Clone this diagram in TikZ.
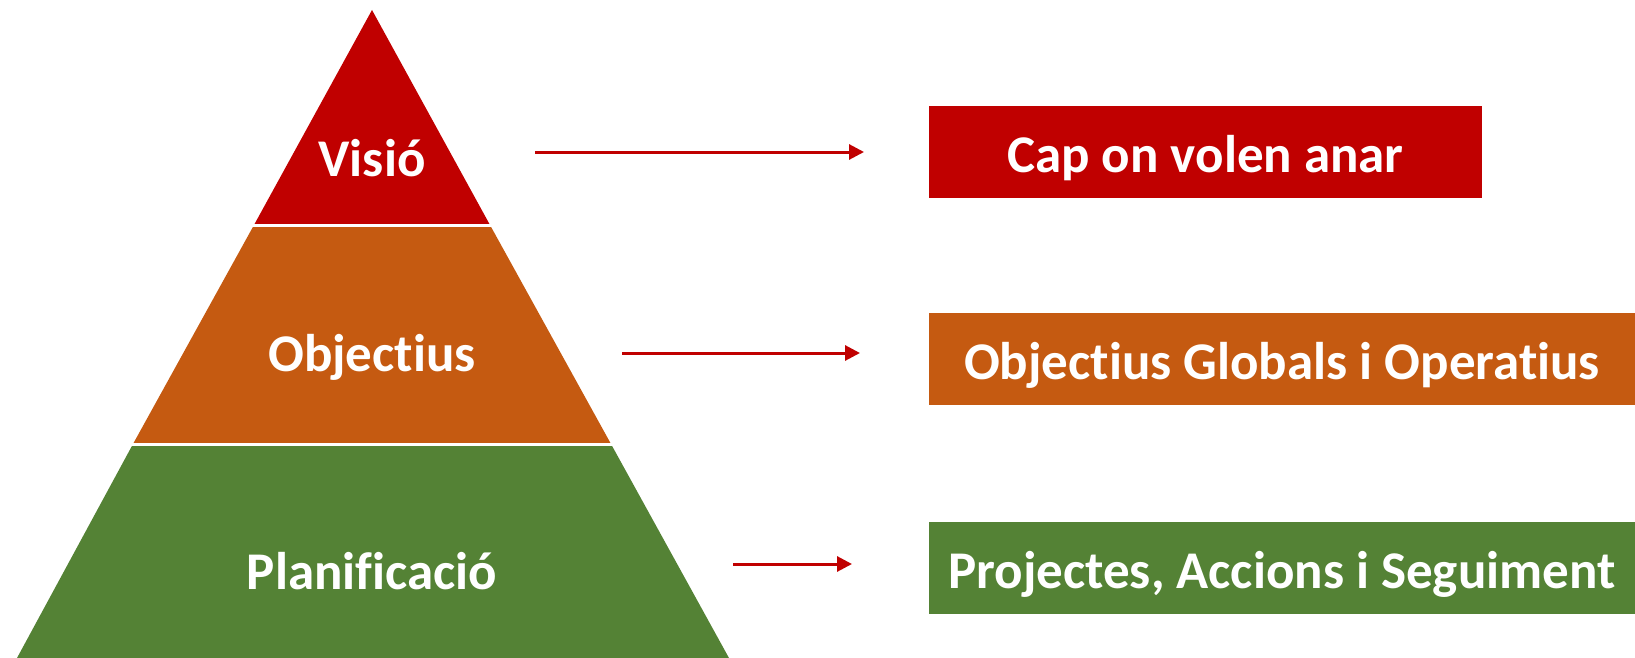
\documentclass[tikz,border=0pt]{standalone}
\usepackage{fontspec}
\setmainfont[Ligatures = {NoCommon, NoDiscretionary}]{Carlito}
\usepackage{tikz}
\usetikzlibrary{arrows.meta}

\definecolor{visred}{HTML}{C00000}
\definecolor{objorange}{HTML}{C55A11}
\definecolor{plangreen}{HTML}{548235}

\tikzset{
    layertext/.style = {text = white, inner sep = 0pt,
        font = \fontsize{53}{60}\selectfont\bfseries},
    goalbox/.style = {layertext, minimum height = 92pt, inner sep = 0pt,
        text height = 50pt, text depth = 10pt},
    redarrow/.style = {draw = visred, line width = 3pt,
        -{Triangle[length = 15pt, width = 15pt]}}
}

\begin{document}
\begin{tikzpicture}[x = 1pt, y = -1pt]
        \useasboundingbox (0, 0) rectangle (1635, 658);

        % pyramid
        \fill [visred] (372, 10) -- (254, 225) -- (490, 225) -- cycle;
        \fill [objorange] (254, 225) -- (133, 444) -- (611, 444) -- (490, 225) -- cycle;
        \fill [plangreen] (133, 444) -- (17, 658) -- (729, 658) -- (611, 444) -- cycle;
        \draw [white, line width = 3pt] (250, 225) -- (494, 225);
        \draw [white, line width = 3pt] (129, 444) -- (615, 444);

        \node [layertext] (visio) at (372, 158) {Visió};
        \node [layertext] (objectius) at (372, 357) {Objectius};
        \node [layertext] (planif) at (372, 571) {Planificació};

        % boxes
        \node [goalbox, fill = visred, minimum width = 553pt] (cap) at (1205.5, 152) {Cap on volen anar};
        \node [goalbox, fill = objorange, minimum width = 706pt] (globals) at (1282, 359) {Objectius Globals i Operatius};
        \node [goalbox, fill = plangreen, minimum width = 706pt] (projectes) at (1282, 568) {Projectes, Accions i Seguiment};

        % arrows
        \coordinate (vstart) at (535, 152);
        \coordinate (vend) at (864, 152);
        \coordinate (ostart) at (622, 353);
        \coordinate (oend) at (860, 353);
        \coordinate (pstart) at (733, 564);
        \coordinate (pend) at (852, 564);
        \draw [redarrow] (vstart) -- (vend);
        \draw [redarrow] (ostart) -- (oend);
        \draw [redarrow] (pstart) -- (pend);
\end{tikzpicture}
\end{document}
